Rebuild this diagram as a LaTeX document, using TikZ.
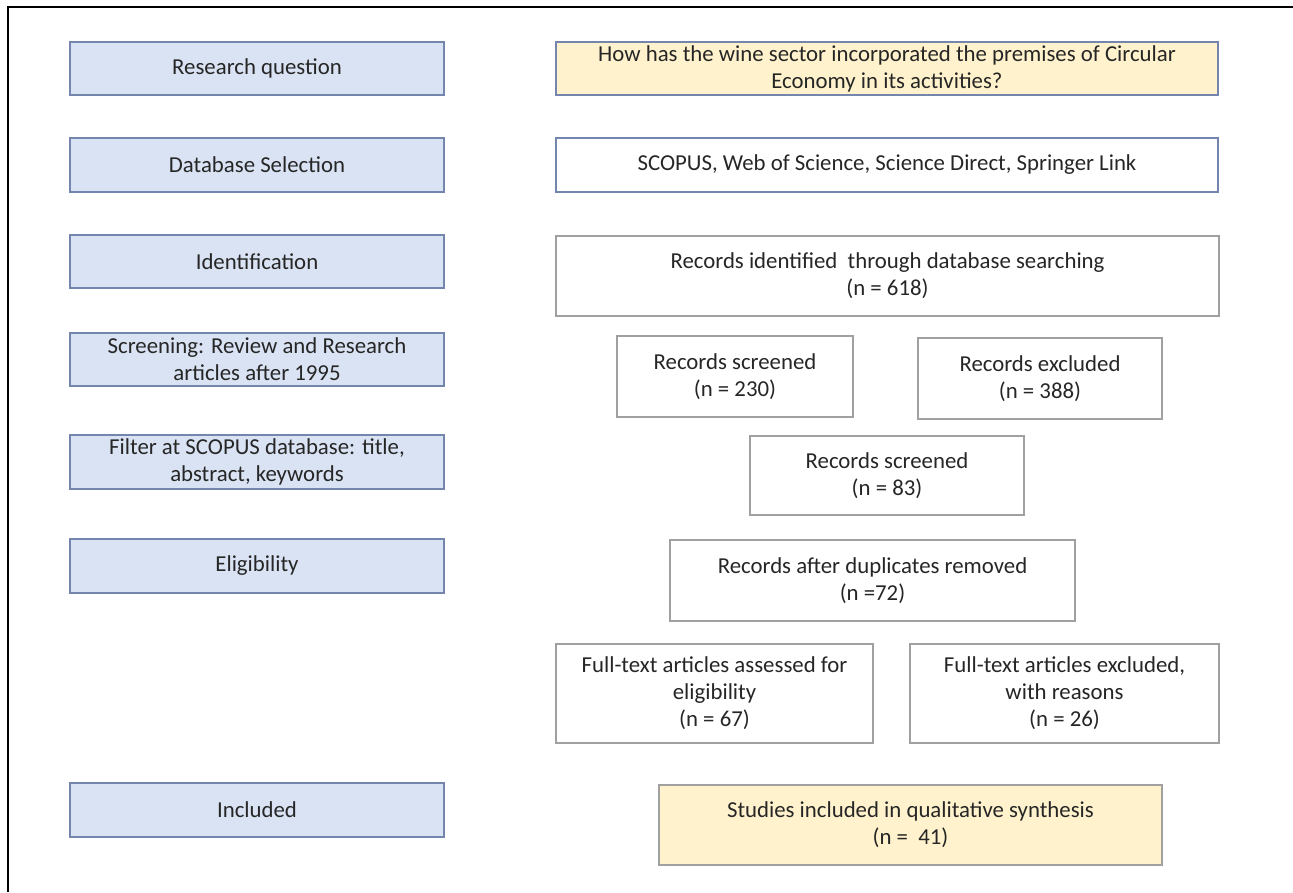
\documentclass[tikz,border=0pt]{standalone}
\usepackage{fontspec}
\setmainfont{Carlito}
\definecolor{lblue}{HTML}{DAE3F3}
\definecolor{bblue}{HTML}{7586AE}
\definecolor{lyell}{HTML}{FFF2CC}
\definecolor{gline}{HTML}{A0A0A0}
\definecolor{txt}{HTML}{262626}
\tikzset{
  base/.style={rectangle, inner sep=0pt, align=center, text=txt,
    font=\fontsize{22.8}{27}\selectfont},
  stage/.style={base, draw=bblue, fill=lblue, line width=1.8pt},
  hilite/.style={base, draw=bblue, fill=lyell, line width=1.8pt},
  dbbox/.style={base, draw=bblue, fill=white, line width=1.8pt},
  rec/.style={base, draw=gline, fill=white, line width=1.5pt},
}
\begin{document}
\begin{tikzpicture}[x=1pt,y=-1pt]
\useasboundingbox (0,0) rectangle (1293,892);
\coordinate (bl) at (8,892);
\coordinate (tl) at (8,7);
\coordinate (tr) at (1293,7);
\draw[line width=2pt, black] (bl) -- (tl) -- (tr);
% left stages
\node[stage, minimum width=374pt, minimum height=53pt] (rq) at (257,68.5) {Research question};
\node[stage, minimum width=374pt, minimum height=54pt] (ds) at (257,165) {Database Selection};
\node[stage, minimum width=374pt, minimum height=53pt] (id) at (257,261.5) {Identification};
\node[stage, minimum width=374pt, minimum height=53pt] (sc) at (257,359.5) {Screening: Review and Research\\articles after 1995};
\node[stage, minimum width=374pt, minimum height=54pt] (fi) at (257,462) {Filter at SCOPUS database: title,\\abstract, keywords};
\node[stage, minimum width=374pt, minimum height=54pt] (el) at (257,566) {Eligibility};
\node[stage, minimum width=374pt, minimum height=54pt] (inc) at (257,810) {Included};
% right boxes
\node[hilite, minimum width=662pt, minimum height=53pt] (q) at (887,68.5) {How has the wine sector incorporated the premises of Circular\\Economy in its activities?};
\node[dbbox, minimum width=662pt, minimum height=54pt] (db) at (887,165) {SCOPUS, Web of Science, Science Direct, Springer Link};
\node[rec, minimum width=663pt, minimum height=80pt] (rid) at (887.5,276) {Records identified\ \ through database searching\\(n = 618)};
\node[rec, minimum width=236pt, minimum height=81pt] (rs1) at (735,376.5) {Records screened\\(n = 230)};
\node[rec, minimum width=244pt, minimum height=81pt] (rex) at (1040,378.5) {Records excluded\\(n = 388)};
\node[rec, minimum width=274pt, minimum height=79pt] (rs2) at (887,475.5) {Records screened\\(n = 83)};
\node[rec, minimum width=405pt, minimum height=81pt] (dup) at (872.5,580.5) {Records after duplicates removed\\(n =72)};
\node[rec, minimum width=317pt, minimum height=99pt] (fta) at (714.5,693.5) {Full-text articles assessed for\\eligibility\\(n = 67)};
\node[rec, minimum width=309pt, minimum height=99pt] (fte) at (1064.5,693.5) {Full-text articles excluded,\\with reasons\\(n = 26)};
\node[hilite, draw=gline, line width=1.5pt, minimum width=503pt, minimum height=80pt] (stu) at (910.5,825) {Studies included in qualitative synthesis\\(n =\ \ 41)};
\end{tikzpicture}
\end{document}
